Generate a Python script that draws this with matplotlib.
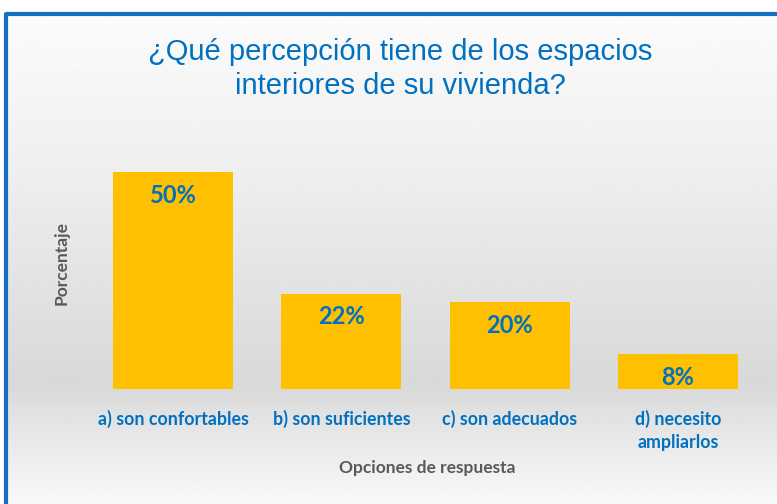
import numpy as np
import matplotlib.pyplot as plt

categories = ['a) son confortables', 'b) son suficientes', 'c) son adecuados', 'd) necesito\nampliarlos']
values = [50, 22, 20, 8]
value_labels = ['50%', '22%', '20%', '8%']

title = '¿Qué percepción tiene de los espacios\ninteriores de su vivienda?'
blue = '#0070C0'
gold = '#FFC000'
grey = '#595959'

W, H = 777, 504
fig = plt.figure(figsize=(W / 100, H / 100), dpi=100)
fig.patch.set_facecolor('white')

# fondo con degradado (área del gráfico)
bg = fig.add_axes([0, 0, 1, 1], zorder=0)
bg.set_xlim(0, W)
bg.set_ylim(H, 0)
bg.axis('off')
top_px, left_px = 14, 6
ys = np.linspace(0, 1, 256)
stops_pos = [0.0, 0.3, 0.75, 1.0]
stops_val = [0.985, 0.94, 0.85, 0.975]
grad = np.interp(ys, stops_pos, stops_val)[:, None]
bg.imshow(np.repeat(grad, 2, axis=1), cmap='gray', vmin=0, vmax=1, aspect='auto',
          extent=[left_px, W + 5, H, top_px], interpolation='bilinear')
# borde azul
bg.plot([left_px, left_px, W + 5], [H + 5, top_px, top_px], color='#1470C0', lw=3.0,
        solid_joinstyle='round', solid_capstyle='butt')

ax = fig.add_axes([88.8 / W, 115 / H, (762.2 - 88.8) / W, 260 / H], zorder=1)
ax.patch.set_alpha(0)
x = np.arange(len(categories))
bars = ax.bar(x, values, width=0.713, color=gold, zorder=2)
ax.set_xlim(-0.5, len(categories) - 0.5)
ax.set_ylim(0, 60)
ax.set_yticks([])
ax.set_xticks(x)
ax.set_xticklabels(categories, fontsize=12.8, fontfamily='Lato', fontweight='bold',
                   color=blue, linespacing=1.4, va='top')
ax.tick_params(axis='x', length=0, pad=15)
for s in ax.spines.values():
    s.set_visible(False)

for b, lab in zip(bars, value_labels):
    ax.annotate(lab, (b.get_x() + b.get_width() / 2, b.get_height()),
                xytext=(0, -8.5), textcoords='offset points', ha='center', va='top',
                fontsize=17, fontfamily='Lato', fontweight='bold', color=blue, zorder=3)

fig.text(400 / W, 1 - 69 / H, title, ha='center', va='center', fontsize=21,
         fontfamily='Liberation Sans', color=blue, linespacing=1.28)
fig.text(427 / W, 1 - 468 / H, 'Opciones de respuesta', ha='center', va='center',
         fontsize=12.5, fontfamily='Lato', fontweight='bold', color=grey)
fig.text(62 / W, 1 - 263 / H, 'Porcentaje', ha='center', va='center', rotation=90,
         fontsize=12.5, fontfamily='Lato', fontweight='bold', color=grey)

fig.savefig('out.png', dpi=100)
